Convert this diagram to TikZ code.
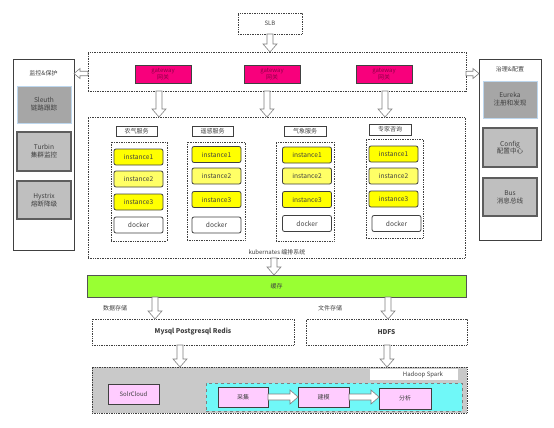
\documentclass[tikz,border=0pt]{standalone}
\usepackage{fontspec}
\setmainfont{Noto Sans CJK SC}
\usetikzlibrary{calc}
\definecolor{dk}{HTML}{404040}
\definecolor{arrgray}{HTML}{7F7F7F}
\definecolor{gwpink}{HTML}{F8007C}
\definecolor{gwtext}{HTML}{8C0046}
\definecolor{yel}{HTML}{FFFF00}
\definecolor{yellt}{HTML}{FFFF66}
\definecolor{greyA}{HTML}{A6A6A6}
\definecolor{greyB}{HTML}{BFBFBF}
\definecolor{ltblue}{HTML}{BDD7EE}
\definecolor{cachegreen}{HTML}{99FF33}
\definecolor{botgrey}{HTML}{C9C9C9}
\definecolor{cyanbg}{HTML}{70F8F8}
\definecolor{pinkbox}{HTML}{FFCCFF}
\newcommand\fsz{\fontsize{6.6}{7.8}\selectfont}
\newcommand\fsm{\fontsize{6}{7.2}\selectfont}
\def\ahw{3}\def\ahh{7}\def\ahl{8}
\tikzset{
  bx/.style={inner sep=0pt, outer sep=0pt, align=center, text=dk, font=\fsz},
  dotbox/.style={bx, draw=dk, densely dotted, line width=0.7pt},
  gwbox/.style={bx, draw=dk, line width=0.6pt, fill=gwpink, text=gwtext, minimum width=56pt, minimum height=18pt, font=\fsm},
  panel/.style={bx, draw=dk, line width=0.8pt},
  gA/.style={bx, draw=ltblue, line width=0.8pt, fill=greyA, minimum width=54pt},
  gB/.style={bx, draw=dk!85, line width=1.1pt, fill=greyB, minimum width=54pt},
  svc/.style={bx, draw=dk, line width=0.6pt, fill=white, minimum height=10pt, font=\fsm},
  grp/.style={bx, draw=dk, densely dotted, line width=0.7pt},
  inst/.style={bx, draw=dk, line width=0.8pt, rounded corners=2pt, minimum width=49pt, minimum height=16pt},
  pinkb/.style={bx, draw=dk, line width=0.8pt, fill=pinkbox, minimum width=51pt, minimum height=20pt, font=\fsm},
  lbl/.style={inner sep=0pt, text=dk, font=\fsm},
  harrow/.style={draw=arrgray, fill=white, line width=0.6pt,
    to path={let \p1=(\tikztostart), \p2=(\tikztotarget),
      \n1={atan2(\y2-\y1,\x2-\x1)}, \n2={veclen(\x2-\x1,\y2-\y1)} in
      ([shift={(\p1)},rotate=\n1]0pt,\ahw pt)
      -- ([shift={(\p1)},rotate=\n1]{\n2-\ahl pt},\ahw pt)
      -- ([shift={(\p1)},rotate=\n1]{\n2-\ahl pt},\ahh pt)
      -- ([shift={(\p1)},rotate=\n1]{\n2},0pt)
      -- ([shift={(\p1)},rotate=\n1]{\n2-\ahl pt},-\ahh pt)
      -- ([shift={(\p1)},rotate=\n1]{\n2-\ahl pt},-\ahw pt)
      -- ([shift={(\p1)},rotate=\n1]0pt,-\ahw pt) -- cycle}},
  sarrow/.style={harrow, /utils/exec={\def\ahw{2.2}\def\ahh{5}\def\ahl{6}}}
}
\begin{document}
\begin{tikzpicture}[x=1pt,y=-1pt]
\useasboundingbox (0,0) rectangle (554,428);
% top
\node[dotbox, minimum width=64pt, minimum height=21pt, font=\fsm] (slb) at (270,23.5) {SLB};
\node[dotbox, minimum width=378pt, minimum height=39pt] (gwc) at (277,71.5) {};
\node[gwbox] (gw1) at (163,74) {gateway\\网关};
\node[gwbox] (gw2) at (272,74) {gateway\\网关};
\node[gwbox] (gw3) at (384,74) {gateway\\网关};
% left panel
\node[panel, minimum width=61pt, minimum height=191pt] (lp) at (43.5,154.5) {};
\node[lbl] (lpt) at (43.5,73) {监控\&保护};
\node[gA, minimum height=37pt] (sleuth) at (44,104.5) {Sleuth\\链路跟踪};
\node[gB, minimum height=39pt] (turbin) at (44,151.5) {Turbin\\集群监控};
\node[gB, minimum height=38pt] (hystrix) at (44,200) {Hystrix\\熔断降级};
% right panel
\node[panel, minimum width=62pt, minimum height=181pt] (rp) at (510,149.5) {};
\node[lbl] (rpt) at (510,69) {治理\&配置};
\node[gA, minimum height=37pt] (eureka) at (510,99.5) {Eureka\\注册和发现};
\node[gB, minimum height=39pt] (config) at (510,147.5) {Config\\配置中心};
\node[gB, minimum height=38pt] (bus) at (510,197) {Bus\\消息总线};
% kubernetes
\node[dotbox, minimum width=377pt, minimum height=141pt] (k8s) at (276.5,187.5) {};
\node[lbl] (k8sl) at (277,252) {kubernates 编排系统};
\node[svc, minimum width=41pt] (s1) at (136.5,131) {农气服务};
\node[svc, minimum width=41pt] (s2) at (212.5,131) {遥感服务};
\node[svc, minimum width=42pt] (s3) at (305,131.5) {气象服务};
\node[svc, minimum width=42pt, minimum height=11pt] (s4) at (390,129.5) {专家咨询};
\node[grp, minimum width=56pt, minimum height=99pt] (g1) at (139,191.5) {};
\node[grp, minimum width=58pt, minimum height=98pt] (g2) at (216,191) {};
\node[grp, minimum width=58pt, minimum height=99pt] (g3) at (305,191.5) {};
\node[grp, minimum width=57pt, minimum height=99pt] (g4) at (394.5,188.5) {};
\node[inst, fill=yel] (a1) at (138.5,157) {instance1};
\node[inst, fill=yellt] (a2) at (138.5,179) {instance2};
\node[inst, fill=yel] (a3) at (138.5,202) {instance3};
\node[inst, fill=white] (a4) at (138.5,225) {docker};
\node[inst, fill=yel] (b1) at (216.5,154.5) {instance1};
\node[inst, fill=yellt] (b2) at (216.5,176) {instance2};
\node[inst, fill=yel] (b3) at (216.5,199.5) {instance3};
\node[inst, fill=white] (b4) at (216.5,225) {docker};
\node[inst, fill=yel] (c1) at (307,155) {instance1};
\node[inst, fill=yellt] (c2) at (307,176) {instance2};
\node[inst, fill=yel] (c3) at (307,199.5) {instance3};
\node[inst, fill=white] (c4) at (307,223.5) {docker};
\node[inst, fill=yel] (d1) at (393.5,154) {instance1};
\node[inst, fill=yellt] (d2) at (393.5,176) {instance2};
\node[inst, fill=yel] (d3) at (393.5,199) {instance3};
\node[inst, fill=white] (d4) at (396.5,223.5) {docker};
% cache and storage
\node[bx, draw=dk!90, line width=1pt, fill=cachegreen, minimum width=379pt, minimum height=22pt, font=\fsm] (cache) at (276.5,286) {缓存};
\node[lbl] (dbl) at (115,308) {数据存储};
\node[lbl] (fsl) at (330,308) {文件存储};
\node[dotbox, minimum width=202pt, minimum height=26pt, font=\bfseries\fsz] (db) at (193,332) {Mysql Postgresql Redis};
\node[dotbox, minimum width=161pt, minimum height=26pt, font=\bfseries\fsz] (hdfs) at (386.5,332) {HDFS};
% bottom
\node[dotbox, fill=botgrey, minimum width=375pt, minimum height=46pt] (bot) at (279.5,390) {};
\node[bx, fill=white, minimum width=88pt, minimum height=11pt, font=\fsm] (hs) at (414,374.5) {\hspace*{18pt}Hadoop Spark};
\node[bx, draw=arrgray, dashed, line width=0.7pt, fill=cyanbg, minimum width=256pt, minimum height=28pt] (cy) at (334,397) {};
\node[pinkb] (solr) at (133.5,394) {SolrCloud};
\node[pinkb, minimum width=50pt] (caiji) at (243,397) {采集};
\node[pinkb] (jianmo) at (323.5,397) {建模};
\node[pinkb, minimum width=52pt, minimum height=21pt] (fenxi) at (405,398.5) {分析};
% coordinates for arrow positions
\coordinate (ya) at (0,73.5);
\coordinate (xa) at (159,0);
\coordinate (xb) at (267,0);
\coordinate (xc) at (385,0);
\coordinate (xd) at (274,0);
\coordinate (xe) at (155,0);
\coordinate (xf) at (388,0);
\coordinate (xg) at (180,0);
\coordinate (xh) at (387,0);
% arrows
\draw[harrow] (slb.south) to (slb.south |- gwc.north);
\draw[sarrow] (gwc.west |- ya) to (lp.east |- ya);
\draw[sarrow] (gwc.east |- ya) to (rp.west |- ya);
\draw[harrow] (xa |- gwc.south) to (xa |- k8s.north);
\draw[harrow] (xb |- gwc.south) to (xb |- k8s.north);
\draw[harrow] (xc |- gwc.south) to (xc |- k8s.north);
\draw[harrow] (xd |- k8s.south) to (xd |- cache.north);
\draw[harrow] (xe |- cache.south) to (xe |- db.north);
\draw[harrow] (xf |- cache.south) to (xf |- hdfs.north);
\draw[harrow] (xg |- db.south) to (xg |- bot.north);
\draw[harrow] (xh |- hdfs.south) to (xh |- bot.north);
\draw[harrow] (caiji.east) to (caiji.east -| jianmo.west);
\draw[harrow] (jianmo.east) to (jianmo.east -| fenxi.west);
\end{tikzpicture}
\end{document}
